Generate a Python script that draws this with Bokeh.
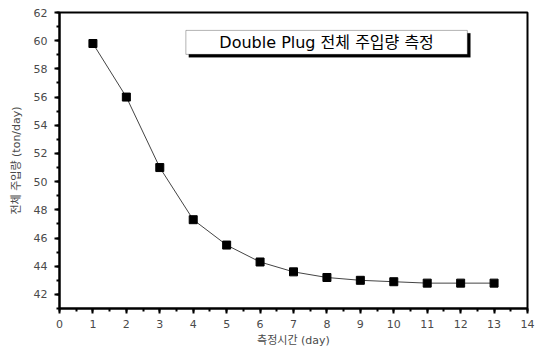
from bokeh.plotting import figure
from bokeh.models import Range1d, SingleIntervalTicker, BoxAnnotation, Label
from bokeh.embed import file_html
from bokeh.resources import INLINE

days = [1, 2, 3, 4, 5, 6, 7, 8, 9, 10, 11, 12, 13]
injection = [59.8, 56.0, 51.0, 47.3, 45.5, 44.3, 43.6, 43.2, 43.0, 42.9, 42.8, 42.8, 42.8]
title_text = "Double Plug 전체 주입량 측정"
x_label = "측정시간 (day)"
y_label = "전체 주입량 (ton/day)"

FONT = "DejaVu Sans, Noto Sans CJK KR"
NUMFONT = "DejaVu Sans"
GREY = "#4a4a4a"

p = figure(width=541, height=351, output_backend="svg", toolbar_location=None,
           x_range=Range1d(0, 14), y_range=Range1d(41, 62),
           min_border_left=59, min_border_right=14, min_border_top=12, min_border_bottom=43)
p.grid.visible = False
p.outline_line_color = "black"
p.outline_line_width = 2

p.xaxis.ticker = SingleIntervalTicker(interval=1, num_minor_ticks=2)
p.yaxis.ticker = SingleIntervalTicker(interval=2, num_minor_ticks=2)
for ax in (p.xaxis[0], p.yaxis[0]):
    ax.axis_line_width = 2
    ax.axis_line_color = "black"
    ax.major_tick_in = 0
    ax.major_tick_out = 5
    ax.minor_tick_in = 0
    ax.minor_tick_out = 3
    ax.major_tick_line_width = 2
    ax.minor_tick_line_width = 2
    ax.major_label_text_font = NUMFONT
    ax.major_label_text_font_size = "11px"
    ax.major_label_text_color = GREY
    ax.axis_label_text_font = FONT
    ax.axis_label_text_font_size = "11px"
    ax.axis_label_text_color = GREY
    ax.axis_label_text_font_style = "normal"
p.xaxis.axis_label = x_label
p.yaxis.axis_label = y_label
p.xaxis.major_label_standoff = 6
p.xaxis.axis_label_standoff = 3
p.yaxis.major_label_standoff = 7
p.yaxis.axis_label_standoff = 8

p.line(days, injection, line_color="#444444", line_width=1)
p.scatter(days, injection, marker="square", size=8, fill_color="black", line_color="black")

# title box with shadow
p.add_layout(BoxAnnotation(left=3.87, right=12.29, top=60.52, bottom=58.82,
                           fill_color="black", fill_alpha=1, line_color="black", level="overlay"))
p.add_layout(BoxAnnotation(left=3.78, right=12.2, top=60.73, bottom=59.03,
                           fill_color="white", fill_alpha=1, line_color="black", line_width=1, level="overlay"))
p.add_layout(Label(x=7.99, y=59.88, text=title_text, text_align="center", text_baseline="middle",
                   text_font=FONT, text_font_size="16px", text_color="black", level="overlay"))

open("out.html", "w").write(file_html(p, INLINE))
